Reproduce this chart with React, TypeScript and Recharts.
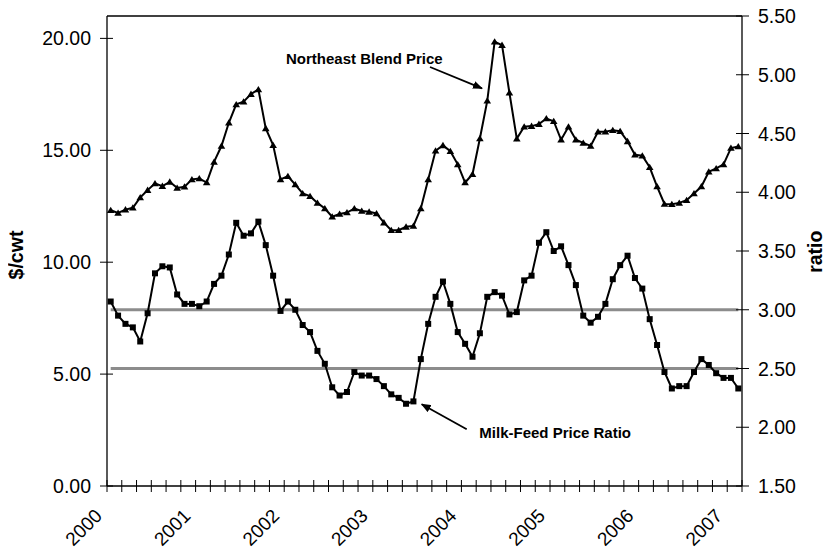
import React from 'react';
import { ComposedChart, Line, XAxis, YAxis, ReferenceLine } from 'recharts';

// monthly series, Jan 2000 .. Feb 2007
const years = ['2000', '2001', '2002', '2003', '2004', '2005', '2006', '2007'];
const monthNames = ['Jan', 'Feb', 'Mar', 'Apr', 'May', 'Jun', 'Jul', 'Aug', 'Sep', 'Oct', 'Nov', 'Dec'];
const SERIES_LENGTH = 86;
const months = Array.from({ length: SERIES_LENGTH }, (_, i) => `${monthNames[i % 12]} ${years[Math.floor(i / 12)]}`);

// Northeast blend price, $/cwt (left axis)
const blendPrice = [
  12.32, 12.2, 12.35, 12.43, 12.89, 13.22, 13.52, 13.4, 13.59, 13.32,
  13.37, 13.7, 13.74, 13.56, 14.48, 15.19, 16.23, 17.05, 17.17, 17.51,
  17.72, 15.98, 15.23, 13.7, 13.84, 13.47, 13.07, 12.95, 12.65, 12.4,
  12.03, 12.15, 12.22, 12.4, 12.29, 12.25, 12.18, 11.77, 11.43, 11.43,
  11.58, 11.62, 12.4, 13.7, 14.98, 15.22, 14.96, 14.37, 13.56, 13.93,
  15.53, 17.21, 19.85, 19.7, 17.57, 15.52, 16.05, 16.08, 16.17, 16.42,
  16.3, 15.47, 16.05, 15.47, 15.33, 15.19, 15.83, 15.83, 15.9, 15.85,
  15.4, 14.8, 14.76, 14.24, 13.38, 12.6, 12.59, 12.65, 12.77, 13.07,
  13.38, 14.04, 14.19, 14.37, 15.1, 15.17,
];

// milk-feed price ratio (right axis)
const milkFeedRatio = [
  3.07, 2.95, 2.88, 2.85, 2.73, 2.97, 3.31, 3.37, 3.36, 3.13,
  3.05, 3.05, 3.03, 3.07, 3.22, 3.29, 3.47, 3.74, 3.63, 3.65,
  3.75, 3.55, 3.29, 2.99, 3.07, 3.0, 2.87, 2.81, 2.65, 2.54,
  2.34, 2.27, 2.3, 2.47, 2.44, 2.44, 2.41, 2.35, 2.28, 2.25,
  2.2, 2.22, 2.58, 2.88, 3.11, 3.24, 3.05, 2.81, 2.71, 2.6,
  2.8, 3.11, 3.15, 3.12, 2.96, 2.98, 3.25, 3.29, 3.57, 3.66,
  3.5, 3.54, 3.38, 3.21, 2.95, 2.89, 2.94, 3.05, 3.26, 3.38,
  3.46, 3.27, 3.18, 2.92, 2.7, 2.47, 2.33, 2.35, 2.35, 2.47,
  2.58, 2.53, 2.46, 2.42, 2.42, 2.33,
];

// the two gray guide levels on the ratio axis
const ratioGuideHigh = 3.0;
const ratioGuideLow = 2.5;

const priceTicks = [0, 5, 10, 15, 20];
const ratioTicks = [1.5, 2, 2.5, 3, 3.5, 4, 4.5, 5, 5.5];

const FONT = "'Liberation Sans', Arial, Helvetica, sans-serif";
const CHART_W = 832;
const CHART_H = 544;
const LEFT_W = 99;
const RIGHT_W = 98;
const HALF_BAND = (CHART_W - LEFT_W - RIGHT_W) / SERIES_LENGTH / 2;

const data = months.map((m, i) => ({
  month: m,
  blend: blendPrice[i],
  ratio: milkFeedRatio[i],
  guideHigh: ratioGuideHigh,
  guideLow: ratioGuideLow,
}));

function MonthTick(props: any) {
  const { x, y, payload, index } = props;
  const i = typeof index === 'number' ? index : payload.index;
  const half = typeof payload?.offset === 'number' && payload.offset > 0 ? payload.offset : HALF_BAND;
  return (
    <g>
      {i % 2 === 0 && <line x1={x - half} x2={x - half} y1={y - 6} y2={y + 6} stroke="#000" />}
      {i === SERIES_LENGTH - 1 && <line x1={x + half} x2={x + half} y1={y - 6} y2={y + 6} stroke="#000" />}
      {i % 12 === 0 && (
        <text
          transform={`translate(${x - 7.5},${y + 31}) rotate(-45)`}
          textAnchor="end"
          fontSize={19}
          fontFamily={FONT}
          fill="#000"
        >
          {years[i / 12]}
        </text>
      )}
    </g>
  );
}

function PriceTick({ x, y, payload }: any) {
  return (
    <g>
      <line x1={x - 7} x2={x + 6} y1={y} y2={y} stroke="#000" />
      <text x={x - 16} y={y} dy="0.36em" textAnchor="end" fontSize={19.5} fontFamily={FONT} fill="#000">
        {Number(payload.value).toFixed(2)}
      </text>
    </g>
  );
}

function RatioTick({ x, y, payload }: any) {
  return (
    <g>
      <line x1={x - 6} x2={x + 7} y1={y} y2={y} stroke="#000" />
      <text x={x + 16} y={y} dy="0.36em" textAnchor="start" fontSize={19.5} fontFamily={FONT} fill="#000">
        {Number(payload.value).toFixed(2)}
      </text>
    </g>
  );
}

const triangleDot = (p: any) => {
  if (p.cx == null || p.cy == null) return <g key={p.index} />;
  const { cx, cy } = p;
  return <path key={p.index} d={`M${cx},${cy - 3.5} L${cx + 3.8},${cy + 2.8} L${cx - 3.8},${cy + 2.8} Z`} fill="#000" />;
};

const squareDot = (p: any) => {
  if (p.cx == null || p.cy == null) return <g key={p.index} />;
  return <rect key={p.index} x={p.cx - 3} y={p.cy - 3} width={6} height={6} fill="#000" />;
};

export default function App() {
  return (
    <div style={{ position: 'relative', width: CHART_W, height: CHART_H, fontFamily: FONT }}>
      <ComposedChart width={CHART_W} height={CHART_H} data={data} margin={{ top: 8, right: 0, bottom: 0, left: 0 }}>
        <XAxis
          dataKey="month"
          scale="band"
          interval={0}
          height={66}
          tickSize={0}
          tickMargin={0}
          tick={<MonthTick />}
          axisLine={{ stroke: '#000', strokeWidth: 1.3 }}
        />
        <YAxis
          yAxisId="left"
          type="number"
          domain={[0, 21]}
          ticks={priceTicks}
          interval={0}
          width={LEFT_W}
          tickSize={0}
          tickMargin={0}
          tick={<PriceTick />}
          axisLine={{ stroke: '#000', strokeWidth: 1.3 }}
        />
        <YAxis
          yAxisId="right"
          orientation="right"
          type="number"
          domain={[1.5, 5.5]}
          ticks={ratioTicks}
          interval={0}
          width={RIGHT_W}
          tickSize={0}
          tickMargin={0}
          tick={<RatioTick />}
          axisLine={{ stroke: '#000', strokeWidth: 1.3 }}
        />
        <ReferenceLine yAxisId="left" y={21} stroke="#000" strokeWidth={1.3} />
        <Line yAxisId="right" dataKey="guideHigh" stroke="#8c8c8c" strokeWidth={3} dot={false} activeDot={false} isAnimationActive={false} />
        <Line yAxisId="right" dataKey="guideLow" stroke="#8c8c8c" strokeWidth={3} dot={false} activeDot={false} isAnimationActive={false} />
        <Line yAxisId="left" dataKey="blend" stroke="#000" strokeWidth={2} dot={triangleDot} activeDot={false} isAnimationActive={false} />
        <Line yAxisId="right" dataKey="ratio" stroke="#000" strokeWidth={2} dot={squareDot} activeDot={false} isAnimationActive={false} />
      </ComposedChart>
      <svg
        width={CHART_W}
        height={CHART_H}
        style={{ position: 'absolute', left: 0, top: 0, pointerEvents: 'none' }}
      >
        <defs>
          <marker id="arrowHead" markerWidth="10" markerHeight="8" refX="9" refY="4" orient="auto" markerUnits="userSpaceOnUse">
            <path d="M0,0 L10,4 L0,8 Z" fill="#000" />
          </marker>
        </defs>
        <text x={278} y={56} fontSize={15} fontWeight="bold" fontFamily={FONT} fill="#000">
          Northeast Blend Price
        </text>
        <line x1={422} y1={59} x2={474} y2={80.3} stroke="#000" strokeWidth={1.8} markerEnd="url(#arrowHead)" />
        <text x={471.3} y={429.5} fontSize={15} fontWeight="bold" fontFamily={FONT} fill="#000">
          Milk-Feed Price Ratio
        </text>
        <line x1={458.7} y1={421.3} x2={413.7} y2={396.3} stroke="#000" strokeWidth={1.8} markerEnd="url(#arrowHead)" />
        <text transform="translate(15.3,247) rotate(-90)" textAnchor="middle" fontSize={19.5} fontWeight="bold" fontFamily={FONT} fill="#000">
          $/cwt
        </text>
        <text transform="translate(813.7,243.7) rotate(-90)" textAnchor="middle" fontSize={19.5} fontWeight="bold" fontFamily={FONT} fill="#000">
          ratio
        </text>
      </svg>
    </div>
  );
}
